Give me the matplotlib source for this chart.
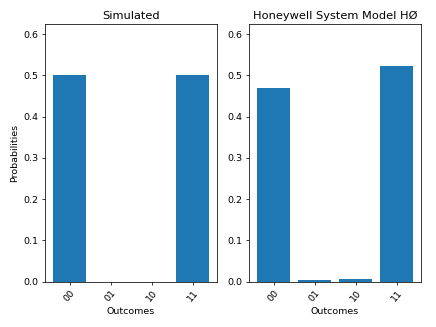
import matplotlib
matplotlib.use("Agg")
import matplotlib.pyplot as plt
import numpy as np

outcomes = ["00", "01", "10", "11"]
simulated = [0.5, 0.0, 0.0, 0.5]
honeywell = [0.470, 0.003, 0.005, 0.522]
titles = ["Simulated", "Honeywell System Model HØ"]

fig, axes = plt.subplots(1, 2, figsize=(6.4, 4.8), dpi=68.125)
fig.subplots_adjust(left=0.103, right=0.966, bottom=0.139, top=0.926, wspace=0.185)

x = np.arange(len(outcomes))
for ax, vals, title in zip(axes, [simulated, honeywell], titles):
    ax.bar(x, vals, width=0.8, color="#1f77b4")
    ax.set_xlim(-0.6, 3.6)
    ax.set_ylim(0, 0.624)
    ax.set_xticks(x)
    ax.set_xticklabels(outcomes, rotation=50)
    ax.set_xlabel("Outcomes")
    ax.set_title(title)

axes[0].set_ylabel("Probabilities")

fig.savefig("out.png", dpi=68.125)
